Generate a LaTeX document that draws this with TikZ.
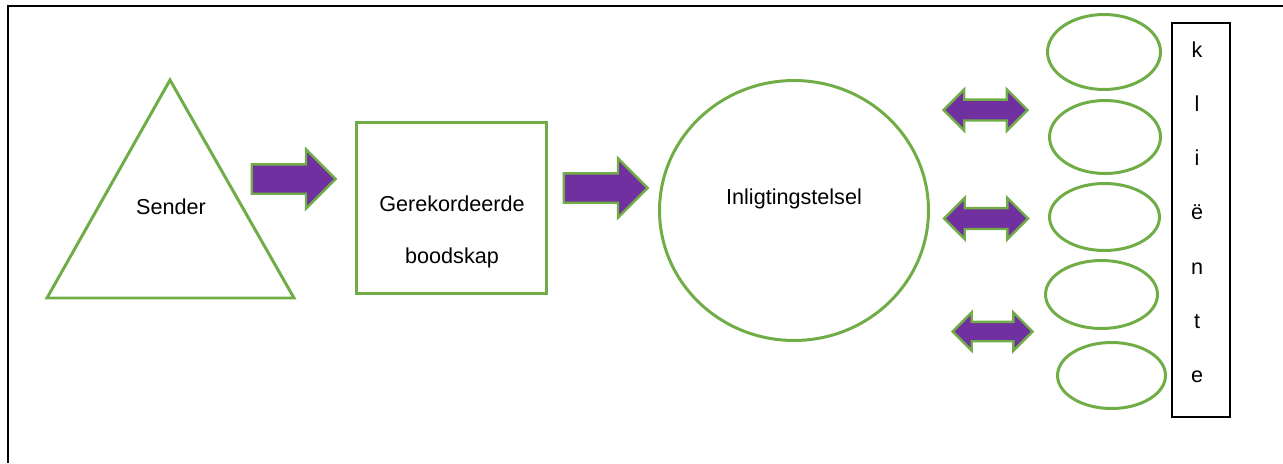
\documentclass[tikz,border=0pt]{standalone}
\usepackage{fontspec}
\setmainfont{Liberation Sans}
\usetikzlibrary{shapes.arrows,shapes.geometric}
\definecolor{lijngroen}{HTML}{70AD47}
\definecolor{pers}{HTML}{7030A0}
\tikzset{
  groenlyn/.style={draw=lijngroen, line width=1.7pt},
  teks/.style={anchor=base, inner sep=0pt, font=\fontsize{12.3}{14}\selectfont},
  blokpyl/.style={single arrow, anchor=tail, fill=pers, draw=lijngroen, line width=1.4pt, inner xsep=0pt, inner ysep=0.27cm, single arrow head extend=0.3cm, minimum height=1.68cm},
  dubbelpyl/.style={double arrow, fill=pers, draw=lijngroen, line width=1.4pt, inner xsep=0pt, inner ysep=0.185cm, double arrow head extend=0.205cm, minimum height=1.68cm},
  ovaal/.style={ellipse, groenlyn, inner sep=0pt}
}
\begin{document}
\begin{tikzpicture}[x=0.02cm, y=-0.02cm]
  \useasboundingbox (0,0) rectangle (1283,463);
  \draw[line width=1.7pt] (8,463) -- (8,6) -- (1283,6);

  \draw[groenlyn] (47,298) -- (170,80) -- (294,298) -- cycle;
  \node[teks] (sender) at (171,214) {Sender};

  \node[blokpyl] (pyl1) at (250.5,179) {};

  \node[groenlyn, minimum width=3.8cm, minimum height=3.42cm] (blok) at (451.5,208) {};
  \node[teks] (gerekordeerde) at (452,211) {Gerekordeerde};
  \node[teks] (boodskap) at (452,263) {boodskap};

  \node[blokpyl] (pyl2) at (562.5,188) {};

  \node[ovaal, minimum width=5.38cm, minimum height=5.2cm] (stelsel) at (794,210.5) {};
  \node[teks] (inligting) at (794,204) {Inligtingstelsel};

  \node[dubbelpyl] (dpyl1) at (985.5,110) {};
  \node[dubbelpyl] (dpyl2) at (986,218.5) {};
  \node[dubbelpyl, inner ysep=0.17cm, double arrow head extend=0.19cm, minimum height=1.6cm] (dpyl3) at (992.5,331.5) {};

  \node[ovaal, minimum width=2.26cm, minimum height=1.5cm] (ovaal1) at (1104,52) {};
  \node[ovaal, minimum width=2.22cm, minimum height=1.46cm] (ovaal2) at (1105,137) {};
  \node[ovaal, minimum width=2.2cm, minimum height=1.34cm] (ovaal3) at (1104.5,217) {};
  \node[ovaal, minimum width=2.24cm, minimum height=1.36cm] (ovaal4) at (1101.5,294.5) {};
  \node[ovaal, minimum width=2.16cm, minimum height=1.32cm] (ovaal5) at (1111.5,375.5) {};

  \node[draw, line width=1.1pt, minimum width=1.16cm, minimum height=7.88cm] (kliente) at (1201,220) {};
  \foreach \letter [count=\i from 0] in {k,l,i,ë,n,t,e}
    \node[teks] (letter\i) at (1197,57+54.3*\i) {\letter};
\end{tikzpicture}
\end{document}
